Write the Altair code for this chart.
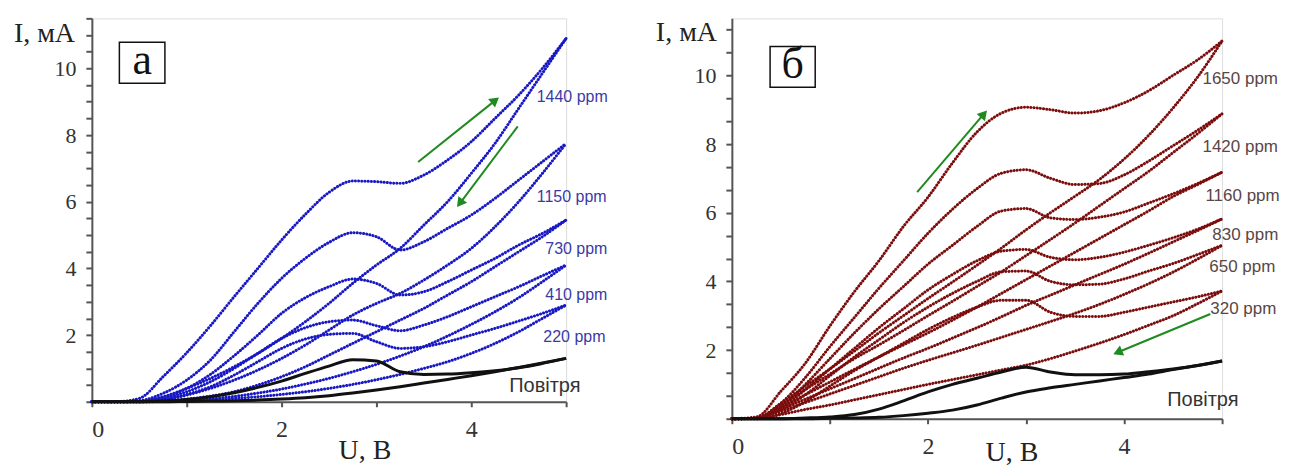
import altair as alt
import pandas as pd

# ---------------- data ----------------
U = [0, 0.25, 0.5, 0.75, 1.0, 1.25, 1.5, 1.75, 2.0, 2.25, 2.5,
     2.75, 3.0, 3.25, 3.5, 3.75, 4.0, 4.25, 4.5, 4.75, 5.0]

# panel a (blue): forward / backward sweeps, mA
a_1440_fwd = [0, 0, 0.1, 0.75, 1.47, 2.28, 3.15, 4.0, 4.85, 5.62, 6.28, 6.62, 6.6, 6.55, 6.8, 7.25, 7.8, 8.5, 9.2, 10.0, 10.9]
a_1440_back = [0, 0, 0.02, 0.15, 0.4, 0.7, 1.05, 1.45, 1.9, 2.4, 2.95, 3.55, 4.1, 4.6, 5.3, 6.0, 6.85, 7.75, 8.8, 9.85, 10.9]
a_1150_fwd = [0, 0, 0.03, 0.25, 0.65, 1.25, 2.1, 2.95, 3.7, 4.3, 4.78, 5.07, 4.95, 4.55, 4.8, 5.2, 5.6, 6.1, 6.65, 7.2, 7.75]
a_1150_back = [0, 0, 0, 0.05, 0.2, 0.4, 0.65, 0.95, 1.3, 1.7, 2.15, 2.6, 2.95, 3.25, 3.65, 4.1, 4.6, 5.25, 6.0, 6.85, 7.75]
a_730_fwd = [0, 0, 0.01, 0.12, 0.4, 0.82, 1.38, 2.0, 2.65, 3.12, 3.45, 3.68, 3.55, 3.2, 3.3, 3.6, 3.95, 4.3, 4.7, 5.05, 5.45]
a_730_back = [0, 0, 0, 0.02, 0.08, 0.17, 0.3, 0.5, 0.75, 1.05, 1.4, 1.75, 2.1, 2.45, 2.8, 3.2, 3.6, 4.05, 4.5, 4.95, 5.45]
a_410_fwd = [0, 0, 0.01, 0.1, 0.3, 0.6, 1.0, 1.45, 1.9, 2.22, 2.4, 2.45, 2.28, 2.13, 2.3, 2.55, 2.85, 3.15, 3.45, 3.78, 4.1]
a_410_back = [0, 0, 0, 0.01, 0.04, 0.09, 0.16, 0.26, 0.38, 0.53, 0.7, 0.9, 1.12, 1.37, 1.65, 1.97, 2.32, 2.7, 3.12, 3.6, 4.1]
a_220_fwd = [0, 0, 0.01, 0.07, 0.22, 0.45, 0.8, 1.2, 1.6, 1.88, 2.02, 2.05, 1.8, 1.6, 1.65, 1.8, 2.0, 2.2, 2.42, 2.65, 2.9]
a_220_back = [0, 0, 0, 0.01, 0.03, 0.06, 0.1, 0.15, 0.22, 0.3, 0.4, 0.52, 0.66, 0.82, 1.0, 1.2, 1.45, 1.75, 2.1, 2.5, 2.9]
a_air_fwd = [0, 0, 0, 0.02, 0.07, 0.15, 0.27, 0.43, 0.62, 0.85, 1.07, 1.26, 1.22, 0.9, 0.82, 0.83, 0.87, 0.93, 1.02, 1.15, 1.3]
a_air_back = [0, 0, 0, 0, 0.01, 0.02, 0.03, 0.05, 0.08, 0.12, 0.18, 0.26, 0.35, 0.45, 0.56, 0.67, 0.78, 0.9, 1.03, 1.16, 1.3]

# panel б (dark red)
b_1650_fwd = [0, 0.05, 0.8, 1.62, 2.7, 3.7, 4.6, 5.6, 6.45, 7.45, 8.35, 8.9, 9.07, 9.0, 8.9, 8.97, 9.2, 9.55, 10.0, 10.45, 11.0]
b_1650_back = [0, 0.02, 0.45, 0.95, 1.45, 1.97, 2.5, 3.0, 3.5, 3.98, 4.47, 4.97, 5.5, 6.0, 6.48, 6.97, 7.56, 8.25, 9.05, 9.95, 11.0]
b_1420_fwd = [0, 0.02, 0.45, 1.2, 2.1, 2.95, 3.8, 4.6, 5.4, 6.1, 6.7, 7.15, 7.25, 7.0, 6.82, 6.85, 7.1, 7.5, 7.95, 8.4, 8.88]
b_1420_back = [0, 0.02, 0.4, 0.85, 1.3, 1.75, 2.15, 2.57, 3.0, 3.42, 3.85, 4.28, 4.75, 5.22, 5.7, 6.2, 6.7, 7.2, 7.75, 8.3, 8.88]
b_1160_fwd = [0, 0.01, 0.35, 1.0, 1.75, 2.5, 3.2, 3.85, 4.5, 5.05, 5.6, 6.05, 6.12, 5.85, 5.8, 5.87, 6.02, 6.28, 6.55, 6.85, 7.18]
b_1160_back = [0, 0.02, 0.33, 0.7, 1.07, 1.44, 1.8, 2.15, 2.5, 2.87, 3.25, 3.65, 4.05, 4.45, 4.85, 5.25, 5.65, 6.05, 6.47, 6.82, 7.18]
b_830_fwd = [0, 0.01, 0.3, 0.85, 1.45, 2.05, 2.65, 3.2, 3.75, 4.2, 4.6, 4.88, 4.93, 4.7, 4.63, 4.7, 4.85, 5.05, 5.27, 5.52, 5.82]
b_830_back = [0, 0.01, 0.27, 0.57, 0.87, 1.17, 1.47, 1.77, 2.05, 2.35, 2.65, 2.97, 3.3, 3.6, 3.9, 4.2, 4.5, 4.82, 5.15, 5.48, 5.82]
b_650_fwd = [0, 0.01, 0.25, 0.7, 1.25, 1.8, 2.3, 2.8, 3.25, 3.65, 4.0, 4.28, 4.3, 4.0, 3.9, 3.92, 4.07, 4.3, 4.52, 4.78, 5.05]
b_650_back = [0, 0.01, 0.22, 0.47, 0.72, 0.97, 1.22, 1.47, 1.7, 1.92, 2.14, 2.37, 2.6, 2.83, 3.07, 3.33, 3.62, 3.93, 4.27, 4.65, 5.05]
b_320_fwd = [0, 0, 0.15, 0.5, 0.95, 1.4, 1.8, 2.2, 2.6, 2.95, 3.25, 3.45, 3.45, 3.1, 2.98, 2.98, 3.1, 3.25, 3.4, 3.55, 3.72]
b_320_back = [0, 0, 0.12, 0.27, 0.4, 0.55, 0.7, 0.85, 1.0, 1.14, 1.28, 1.42, 1.56, 1.75, 1.97, 2.2, 2.45, 2.72, 3.0, 3.35, 3.72]
b_air_fwd = [0, 0, 0, 0.02, 0.05, 0.12, 0.28, 0.52, 0.78, 1.0, 1.18, 1.36, 1.5, 1.36, 1.28, 1.28, 1.3, 1.37, 1.45, 1.55, 1.68]
b_air_back = [0, 0, 0, 0, 0.01, 0.02, 0.04, 0.09, 0.16, 0.25, 0.4, 0.6, 0.78, 0.9, 1.0, 1.1, 1.2, 1.3, 1.43, 1.55, 1.68]

# labels: text, U, I
a_labels = [("1440 ppm", 4.69, 9.13), ("1150 ppm", 4.69, 6.14), ("730 ppm", 4.78, 4.58),
            ("410 ppm", 4.78, 3.2), ("220 ppm", 4.76, 1.95)]
a_air_label = ("Повітря", 4.4, 0.48)
b_labels = [("1650 ppm", 4.8, 9.88), ("1420 ppm", 4.8, 7.9), ("1160 ppm", 4.83, 6.5),
            ("830 ppm", 4.9, 5.35), ("650 ppm", 4.87, 4.42), ("320 ppm", 4.88, 3.2)]
b_air_label = ("Повітря", 4.44, 0.55)

# arrows: start U, start I, tip U, tip I, head angle
a_arrows = [(3.44, 7.19, 4.24, 9.01, 51), (4.49, 8.26, 3.89, 5.99, 217)]
b_arrows = [(1.89, 6.6, 2.56, 8.84, 41), (4.88, 3.05, 3.95, 1.95, 247)]

# panel tag boxes: U1, U2, I1, I2, letter
a_box = (0.29, 0.77, 9.55, 10.78, "а")
b_box = (0.39, 0.85, 9.65, 10.84, "б")

# ---------------- build tables ----------------
def curves_df(pairs):
    rows = []
    for name, vals in pairs:
        for u, i in zip(U, vals):
            rows.append({"U": u, "I": i, "series": name})
    return pd.DataFrame(rows)

a_gas = curves_df([("1440f", a_1440_fwd), ("1440b", a_1440_back), ("1150f", a_1150_fwd),
                   ("1150b", a_1150_back), ("730f", a_730_fwd), ("730b", a_730_back),
                   ("410f", a_410_fwd), ("410b", a_410_back), ("220f", a_220_fwd),
                   ("220b", a_220_back)])
a_air = curves_df([("airf", a_air_fwd), ("airb", a_air_back)])
b_gas = curves_df([("1650f", b_1650_fwd), ("1650b", b_1650_back), ("1420f", b_1420_fwd),
                   ("1420b", b_1420_back), ("1160f", b_1160_fwd), ("1160b", b_1160_back),
                   ("830f", b_830_fwd), ("830b", b_830_back), ("650f", b_650_fwd),
                   ("650b", b_650_back), ("320f", b_320_fwd), ("320b", b_320_back)])
b_air = curves_df([("airf", b_air_fwd), ("airb", b_air_back)])

SERIF = "Liberation Serif"
SANS = "Liberation Sans"
GREEN = "#1f8a1f"


def panel(gas, air, color, labels, air_label, label_color, label_size, arrows, box,
          width, height, ymax, yvalues, ylabel_expr, xtitle_x, xtitle_y, ytitle_x, ytitle_y):
    x = alt.X("U:Q", scale=alt.Scale(domain=[0, 5], nice=False, zero=False),
              axis=alt.Axis(values=[0, 1, 2, 3, 4, 5],
                            labelExpr="datum.value % 2 == 0 ? datum.label : ''",
                            title="U, В", titleFont=SERIF, titleFontSize=28,
                            titleFontWeight="normal", titleColor="#222",
                            titleX=xtitle_x, titleY=xtitle_y, titleAlign="center",
                            titleBaseline="middle",
                            labelFont=SERIF, labelFontSize=24, labelColor="#333",
                            labelPadding=11, tickSize=5, tickWidth=2, tickColor="#555",
                            domainColor="#555", domainWidth=2, grid=False))
    y = alt.Y("I:Q", scale=alt.Scale(domain=[0, ymax], nice=False, zero=False),
              axis=alt.Axis(values=yvalues, labelExpr=ylabel_expr,
                            title="I, мА", titleFont=SERIF, titleFontSize=28,
                            titleFontWeight="normal", titleColor="#222", titleAngle=0,
                            titleX=ytitle_x, titleY=ytitle_y, titleAlign="center",
                            titleBaseline="middle",
                            labelFont=SERIF, labelFontSize=22, labelColor="#333",
                            labelPadding=10, tickSize=6, tickWidth=2, tickColor="#555",
                            domainColor="#555", domainWidth=2, grid=False))

    gas_layer = alt.Chart(gas).mark_line(
        interpolate="monotone", strokeDash=[0.1, 3.1], strokeCap="round",
        strokeWidth=3.0, color=color
    ).encode(x=x, y=y, detail="series:N")

    air_layer = alt.Chart(air).mark_line(
        interpolate="monotone", strokeWidth=3.0, color="#111"
    ).encode(x=x, y=y, detail="series:N")

    lab_df = pd.DataFrame([{"U": u, "I": i, "t": t} for t, u, i in labels])
    lab_layer = alt.Chart(lab_df).mark_text(
        align="left", baseline="middle", font=SANS, fontSize=label_size, color=label_color
    ).encode(x=x, y=y, text="t:N")

    air_df = pd.DataFrame([{"U": air_label[1], "I": air_label[2], "t": air_label[0]}])
    air_lab = alt.Chart(air_df).mark_text(
        align="left", baseline="middle", font=SANS, fontSize=20, color="#333"
    ).encode(x=x, y=y, text="t:N")

    arr_df = pd.DataFrame([{"U": a[0], "I": a[1], "U2": a[2], "I2": a[3]} for a in arrows])
    arr_line = alt.Chart(arr_df).mark_rule(color=GREEN, strokeWidth=2).encode(
        x=x, y=y, x2="U2:Q", y2="I2:Q")
    head_df = pd.DataFrame([{"U": a[2], "I": a[3], "ang": a[4]} for a in arrows])
    arr_head = alt.Chart(head_df).mark_point(
        shape="triangle", filled=True, size=120, color=GREEN, opacity=1
    ).encode(x=x, y=y, angle=alt.Angle("ang:Q", scale=None))

    box_df = pd.DataFrame([{"U": box[0], "U2": box[1], "I": box[2], "I2": box[3]}])
    box_layer = alt.Chart(box_df).mark_rect(
        fill="white", stroke="#111", strokeWidth=1.5
    ).encode(x=x, x2="U2:Q", y=y, y2="I2:Q")
    tag_df = pd.DataFrame([{"U": (box[0] + box[1]) / 2, "I": (box[2] + box[3]) / 2, "t": box[4]}])
    tag_layer = alt.Chart(tag_df).mark_text(
        align="center", baseline="middle", font=SERIF, fontSize=44, color="#111", dy=-2
    ).encode(x=x, y=y, text="t:N")

    return alt.layer(gas_layer, air_layer, lab_layer, air_lab, arr_line, arr_head,
                     box_layer, tag_layer).properties(width=width, height=height)


LABEL_EXPR = ("abs(datum.value - 2*round(datum.value/2)) < 0.01 && datum.value > 0.5 "
              "? format(round(datum.value), 'd') : ''")
a_yvals = [i * 0.5 for i in range(24)]
b_yvals = [round(i * 2 / 3, 4) for i in range(18)]

pa = panel(a_gas, a_air, "#1717c4", a_labels, a_air_label, "#3a3aa6", 16, a_arrows, a_box,
           475, 384, 11.5, a_yvals, LABEL_EXPR, 273, 49, -48, 15)
pb = panel(b_gas, b_air, "#7b0c0c", b_labels, b_air_label, "#5a4646", 17, b_arrows, b_box,
           491, 401, 11.66, b_yvals, LABEL_EXPR, 280, 34, -46, 14)

chart = alt.hconcat(pa, pb, spacing=166, bounds="flush").properties(
    padding={"left": 4, "top": 8, "right": 0, "bottom": 0}
).configure_view(stroke=None).configure(background="white")

chart.save("out.html", embed_options={"renderer": "svg", "actions": False})
